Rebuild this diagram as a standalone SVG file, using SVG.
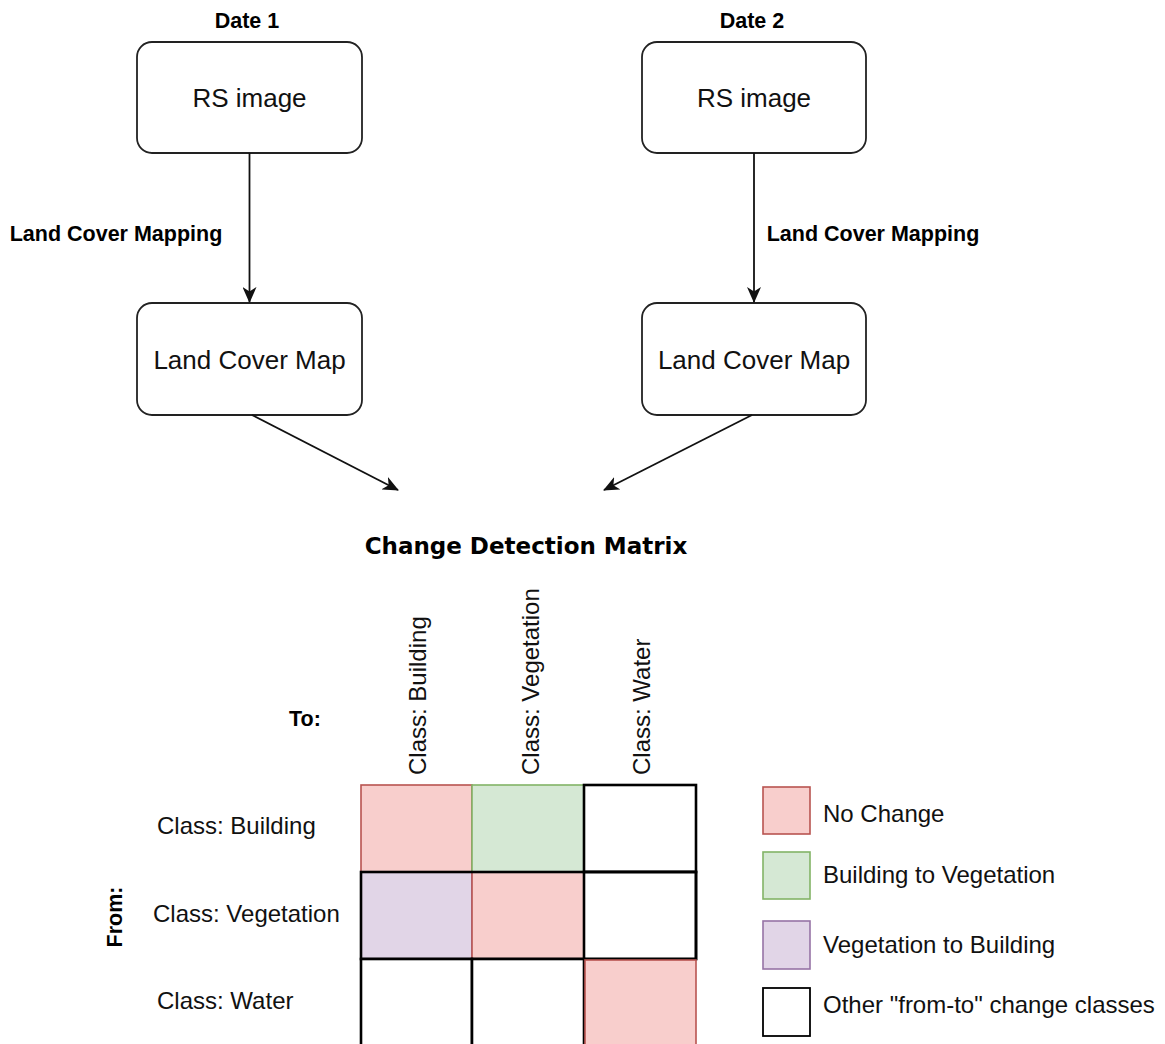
<svg xmlns="http://www.w3.org/2000/svg" width="1165" height="1044" viewBox="0 0 1165 1044">
<style>
  .box { fill: #ffffff; stroke: #222222; stroke-width: 1.8; }
  .lbl { font-family: "Liberation Sans", Arial, sans-serif; font-size: 26px; fill: #111111; }
  .bold { font-family: "Liberation Sans", Arial, sans-serif; font-size: 21.5px; font-weight: bold; fill: #000000; }
  .title { font-family: "DejaVu Sans", sans-serif; font-size: 23px; font-weight: bold; fill: #000000; }
  .cls { font-family: "Liberation Sans", Arial, sans-serif; font-size: 24px; fill: #111111; }
  .edge { fill: none; stroke: #111111; stroke-width: 1.8; }
  .nochg { fill: #f8cecc; stroke: #b85450; stroke-width: 1.6; }
  .b2v { fill: #d5e8d4; stroke: #82b366; stroke-width: 1.6; }
  .v2b { fill: #e1d5e7; stroke: #9673a6; stroke-width: 1.6; }
  .other { fill: #ffffff; stroke: #000000; stroke-width: 2.6; }
  .outline { fill: none; stroke: #000000; stroke-width: 2.6; }
</style>
<defs>
  <marker id="arrow" viewBox="0 0 16 14" refX="15" refY="7" markerWidth="16" markerHeight="14" markerUnits="userSpaceOnUse" orient="auto">
    <path d="M0,0 L16,7 L0,14 L4.5,7 Z" fill="#111111"/>
  </marker>
</defs>

<g id="label-date1"><text class="bold" x="247" y="28" text-anchor="middle">Date 1</text></g>
<g id="label-date2"><text class="bold" x="752" y="28" text-anchor="middle">Date 2</text></g>

<g id="node-rs1">
  <rect class="box" x="137" y="42" width="225" height="111" rx="15" ry="15"/>
  <text class="lbl" x="249.5" y="107" text-anchor="middle">RS image</text>
</g>
<g id="node-rs2">
  <rect class="box" x="642" y="42" width="224" height="111" rx="15" ry="15"/>
  <text class="lbl" x="754" y="107" text-anchor="middle">RS image</text>
</g>
<g id="node-lcm1">
  <rect class="box" x="137" y="303" width="225" height="112" rx="15" ry="15"/>
  <text class="lbl" x="249.5" y="369" text-anchor="middle">Land Cover Map</text>
</g>
<g id="node-lcm2">
  <rect class="box" x="642" y="303" width="224" height="112" rx="15" ry="15"/>
  <text class="lbl" x="754" y="369" text-anchor="middle">Land Cover Map</text>
</g>

<g id="connectors">
  <line class="edge" x1="249.5" y1="153" x2="249.5" y2="302" marker-end="url(#arrow)"/>
  <line class="edge" x1="754" y1="153" x2="754" y2="302" marker-end="url(#arrow)"/>
  <line class="edge" x1="252" y1="415" x2="398" y2="490" marker-end="url(#arrow)"/>
  <line class="edge" x1="752" y1="415" x2="604" y2="490" marker-end="url(#arrow)"/>
  <text class="bold" x="116" y="241" text-anchor="middle">Land Cover Mapping</text>
  <text class="bold" x="873" y="241" text-anchor="middle">Land Cover Mapping</text>
</g>

<g id="title"><text class="title" x="526" y="554" text-anchor="middle">Change Detection Matrix</text></g>

<g id="axis-labels">
  <text class="bold" x="305" y="726" text-anchor="middle">To:</text>
  <text class="bold" transform="translate(122,917) rotate(-90)" text-anchor="middle">From:</text>
</g>

<g id="col-headers">
  <text class="cls" transform="translate(426,775) rotate(-90)">Class: Building</text>
  <text class="cls" transform="translate(539,775) rotate(-90)">Class: Vegetation</text>
  <text class="cls" transform="translate(650,775) rotate(-90)">Class: Water</text>
</g>

<g id="row-headers">
  <text class="cls" x="157" y="834">Class: Building</text>
  <text class="cls" x="153" y="922">Class: Vegetation</text>
  <text class="cls" x="157" y="1009">Class: Water</text>
</g>

<g id="matrix">
  <rect class="nochg" x="361" y="785" width="111" height="87"/>
  <rect class="b2v" x="472" y="785" width="112" height="87"/>
  <rect class="v2b" x="361" y="872" width="111" height="87"/>
  <rect class="nochg" x="472" y="872" width="112" height="87"/>
  <rect class="other" x="584" y="785" width="112" height="87"/>
  <rect class="other" x="584" y="872" width="112" height="87"/>
  <rect class="outline" x="361" y="872" width="335" height="87"/>
  <rect class="other" x="361" y="959" width="111" height="90"/>
  <rect class="other" x="472" y="959" width="112" height="90"/>
  <rect class="nochg" x="585" y="960" width="111" height="90"/>
</g>

<g id="legend">
  <rect class="nochg" x="763" y="787" width="47" height="47"/>
  <text class="cls" x="823" y="822">No Change</text>
  <rect class="b2v" x="763" y="852" width="47" height="47"/>
  <text class="cls" x="823" y="883">Building to Vegetation</text>
  <rect class="v2b" x="763" y="921" width="47" height="48"/>
  <text class="cls" x="823" y="953">Vegetation to Building</text>
  <rect x="763" y="988" width="47" height="48" fill="#ffffff" stroke="#000000" stroke-width="1.8"/>
  <text class="cls" x="823" y="1013">Other "from-to" change classes</text>
</g>
</svg>
